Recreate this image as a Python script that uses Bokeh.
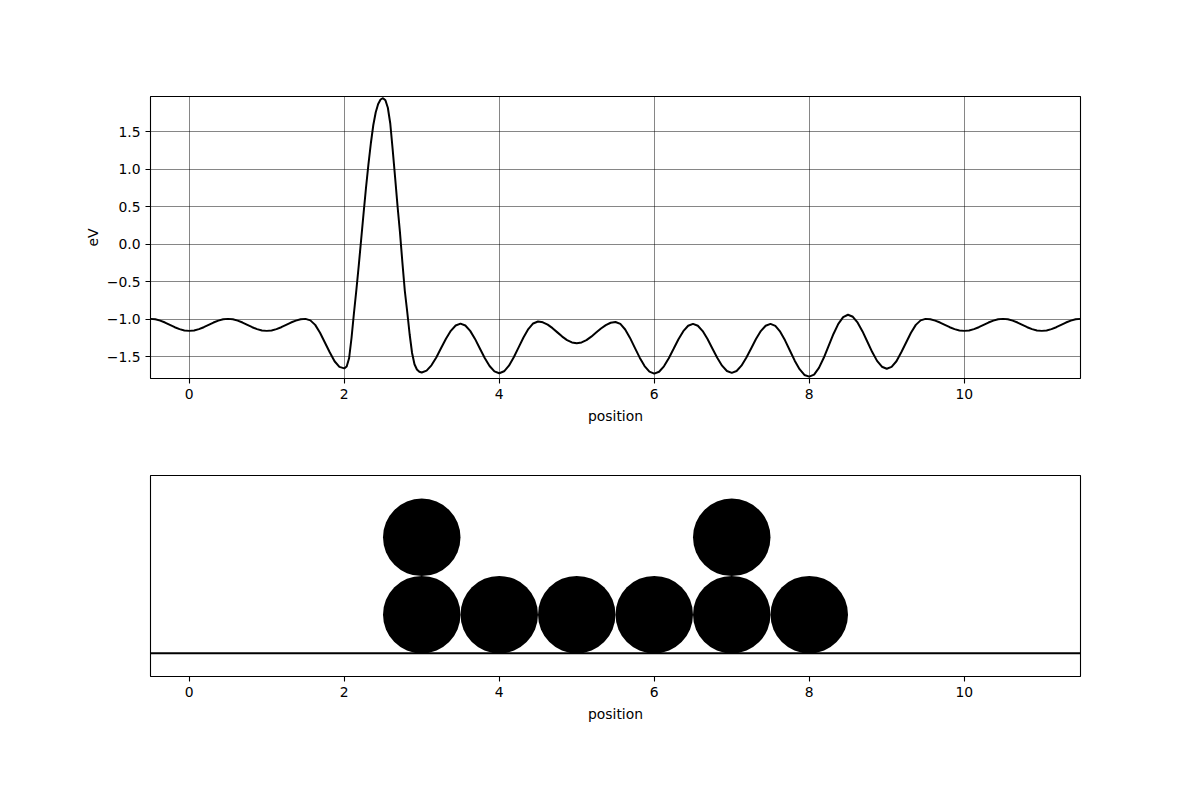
from bokeh.plotting import figure
from bokeh.layouts import column
from bokeh.models import Range1d, FixedTicker, CustomJSTickFormatter, Span
from bokeh.embed import file_html
from bokeh.resources import INLINE

# ---------------- data ----------------
# energy profile, background part left of the atoms
pos_a = [-0.5, -0.4375, -0.375, -0.3125, -0.25, -0.1875, -0.125, -0.0625,
         0.0, 0.0625, 0.125, 0.1875, 0.25, 0.3125, 0.375, 0.4375,
         0.5, 0.5625, 0.625, 0.6875, 0.75, 0.8125, 0.875, 0.9375,
         1.0, 1.0625, 1.125, 1.1875, 1.25, 1.3125, 1.375, 1.4375,
         1.5, 1.5625, 1.625, 1.6875, 1.75, 1.8125, 1.875, 1.9375]
ev_a = [-0.995, -1.001, -1.018, -1.044, -1.075, -1.106, -1.132, -1.149,
        -1.155, -1.149, -1.132, -1.106, -1.075, -1.044, -1.018, -1.001,
        -0.995, -1.001, -1.018, -1.044, -1.075, -1.106, -1.132, -1.149,
        -1.155, -1.149, -1.132, -1.106, -1.075, -1.044, -1.018, -1.001,
        -0.995, -1.015, -1.075, -1.18, -1.31, -1.44, -1.56, -1.635]

# the barrier peak
pos_b = [2.0, 2.03125, 2.0625, 2.09375, 2.125, 2.15625, 2.1875, 2.21875,
         2.25, 2.28125, 2.3125, 2.34375, 2.375, 2.40625, 2.4375, 2.46875,
         2.5, 2.53125, 2.5625, 2.59375, 2.625, 2.65625, 2.6875, 2.71875,
         2.75, 2.78125, 2.8125, 2.84375, 2.875, 2.90625, 2.9375, 2.96875]
ev_b = [-1.655, -1.63, -1.52, -1.25, -0.92, -0.61, -0.28, 0.07,
        0.42, 0.76, 1.07, 1.35, 1.59, 1.76, 1.87, 1.93,
        1.948, 1.92, 1.82, 1.61, 1.26, 0.89, 0.51, 0.16,
        -0.24, -0.62, -0.90, -1.20, -1.45, -1.60, -1.67, -1.70]

# over the adsorbed atoms
pos_c = [3.0, 3.0625, 3.125, 3.1875, 3.25, 3.3125, 3.375, 3.4375,
         3.5, 3.5625, 3.625, 3.6875, 3.75, 3.8125, 3.875, 3.9375,
         4.0, 4.0625, 4.125, 4.1875, 4.25, 4.3125, 4.375, 4.4375,
         4.5, 4.5625, 4.625, 4.6875, 4.75, 4.8125, 4.875, 4.9375,
         5.0, 5.0625, 5.125, 5.1875, 5.25, 5.3125, 5.375, 5.4375,
         5.5, 5.5625, 5.625, 5.6875, 5.75, 5.8125, 5.875, 5.9375,
         6.0, 6.0625, 6.125, 6.1875, 6.25, 6.3125, 6.375, 6.4375,
         6.5, 6.5625, 6.625, 6.6875, 6.75, 6.8125, 6.875, 6.9375,
         7.0, 7.0625, 7.125, 7.1875, 7.25, 7.3125, 7.375, 7.4375,
         7.5, 7.5625, 7.625, 7.6875, 7.75, 7.8125, 7.875, 7.9375,
         8.0, 8.0625, 8.125, 8.1875, 8.25, 8.3125, 8.375, 8.4375,
         8.5, 8.5625, 8.625, 8.6875, 8.75, 8.8125, 8.875, 8.9375,
         9.0, 9.0625, 9.125, 9.1875, 9.25, 9.3125, 9.375, 9.4375]
ev_c = [-1.71, -1.685, -1.614, -1.509, -1.384, -1.259, -1.154, -1.083,
        -1.058, -1.083, -1.155, -1.262, -1.389, -1.516, -1.623, -1.695,
        -1.72, -1.694, -1.619, -1.507, -1.375, -1.243, -1.131, -1.056,
        -1.03, -1.041, -1.072, -1.119, -1.175, -1.231, -1.278, -1.309,
        -1.32, -1.309, -1.278, -1.232, -1.178, -1.124, -1.078, -1.047,
        -1.036, -1.062, -1.137, -1.249, -1.381, -1.512, -1.624, -1.699,
        -1.725, -1.700, -1.628, -1.520, -1.394, -1.267, -1.159, -1.087,
        -1.062, -1.087, -1.158, -1.264, -1.389, -1.513, -1.619, -1.690,
        -1.715, -1.690, -1.619, -1.513, -1.389, -1.264, -1.158, -1.087,
        -1.062, -1.089, -1.166, -1.281, -1.416, -1.552, -1.666, -1.743,
        -1.765, -1.738, -1.648, -1.514, -1.355, -1.196, -1.062, -0.972,
        -0.94, -0.967, -1.046, -1.162, -1.30, -1.438, -1.555, -1.633,
        -1.66, -1.635, -1.56, -1.44, -1.31, -1.18, -1.075, -1.015]

# background part right of the atoms
pos_d = [9.5, 9.5625, 9.625, 9.6875, 9.75, 9.8125, 9.875, 9.9375,
         10.0, 10.0625, 10.125, 10.1875, 10.25, 10.3125, 10.375, 10.4375,
         10.5, 10.5625, 10.625, 10.6875, 10.75, 10.8125, 10.875, 10.9375,
         11.0, 11.0625, 11.125, 11.1875, 11.25, 11.3125, 11.375, 11.4375,
         11.5]
ev_d = [-0.995, -1.001, -1.018, -1.044, -1.075, -1.106, -1.132, -1.149,
        -1.155, -1.149, -1.132, -1.106, -1.075, -1.044, -1.018, -1.001,
        -0.995, -1.001, -1.018, -1.044, -1.075, -1.106, -1.132, -1.149,
        -1.155, -1.149, -1.132, -1.106, -1.075, -1.044, -1.018, -1.001,
        -0.995]

# atoms on the surface
atom_x = [3, 4, 5, 6, 7, 8, 3, 7]
atom_y = [0.5, 0.5, 0.5, 0.5, 0.5, 0.5, 1.5, 1.5]
atom_radius = 0.5
surface_y = 0.0

x_ticks = [0, 2, 4, 6, 8, 10]
ev_ticks = [-1.5, -1.0, -0.5, 0.0, 0.5, 1.0, 1.5]
x_limits = (-0.5, 11.5)
ev_limits = (-1.79, 1.97)
atom_limits = (-0.3, 2.3)

position = pos_a + pos_b + pos_c + pos_d
energy = ev_a + ev_b + ev_c + ev_d

FONT = "DejaVu Sans"
FS = "13.9px"


def style_axes(p):
    p.outline_line_color = "black"
    p.outline_line_width = 1.1
    p.outline_line_alpha = 1.0
    for ax in p.axis:
        ax.axis_line_color = None
        ax.major_tick_line_color = "black"
        ax.major_tick_line_width = 1.1
        ax.major_tick_out = 5
        ax.major_tick_in = 0
        ax.minor_tick_line_color = None
        ax.major_label_text_font = FONT
        ax.major_label_text_font_size = FS
        ax.major_label_text_color = "black"
        ax.major_label_standoff = 5
        ax.axis_label_text_font = FONT
        ax.axis_label_text_font_size = FS
        ax.axis_label_text_font_style = "normal"
        ax.axis_label_text_color = "black"
        ax.axis_label_standoff = 6


# ---------------- top panel ----------------
p1 = figure(width=1200, height=440, output_backend="svg", toolbar_location=None,
            x_range=Range1d(*x_limits), y_range=Range1d(*ev_limits),
            min_border_left=150, min_border_right=120,
            min_border_top=96, min_border_bottom=62)
p1.line(position, energy, line_color="black", line_width=2.0)
p1.xaxis.ticker = FixedTicker(ticks=x_ticks)
p1.yaxis.ticker = FixedTicker(ticks=ev_ticks)
p1.yaxis.formatter = CustomJSTickFormatter(
    code="return tick.toFixed(1).replace('-', '\u2212');")
p1.xaxis.axis_label = "position"
p1.yaxis.axis_label = "eV"
p1.grid.grid_line_color = "black"
p1.grid.grid_line_width = 0.6
p1.grid.grid_line_alpha = 0.8
style_axes(p1)
p1.yaxis.axis_label_standoff = 3

# ---------------- bottom panel ----------------
p2 = figure(width=1200, height=365, output_backend="svg", toolbar_location=None,
            x_range=Range1d(*x_limits), y_range=Range1d(*atom_limits),
            min_border_left=150, min_border_right=120,
            min_border_top=35, min_border_bottom=129)
p2.circle(atom_x, atom_y, radius=atom_radius, fill_color="black",
          line_color="black", line_width=0)
p2.add_layout(Span(location=surface_y, dimension="width",
                   line_color="black", line_width=2.0))
p2.xaxis.ticker = FixedTicker(ticks=x_ticks)
p2.xaxis.axis_label = "position"
p2.yaxis.visible = False
p2.grid.grid_line_color = None
style_axes(p2)

layout = column(p1, p2, spacing=0)
open("out.html", "w").write(file_html(layout, INLINE))
